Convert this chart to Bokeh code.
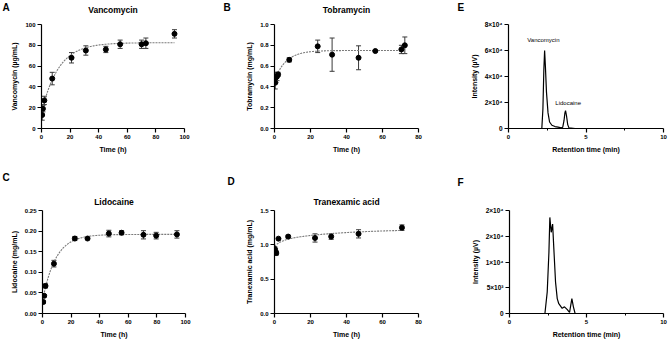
import numpy as np
from bokeh.plotting import figure
from bokeh.layouts import column, row
from bokeh.models import (ColumnDataSource, Whisker, TeeHead, FixedTicker, Label,
                          PrintfTickFormatter, Range1d)
from bokeh.embed import file_html
from bokeh.resources import INLINE

FONT = "Liberation Sans"

# ---- Release data (mean +/- SD) ----
vanc_t = [0.5, 1, 2, 7.5, 21, 31, 45, 55, 70, 73, 93]
vanc_mean = [13, 19, 27, 48, 68, 75, 76, 81, 81, 82, 91]
vanc_sd = [5, 3, 4, 6, 5, 4.5, 3, 4, 4, 5, 4]

tobra_t = [0.4, 0.8, 1.4, 2, 8.2, 24, 32, 46.7, 56, 70.5, 72.4]
tobra_mean = [0.44, 0.49, 0.50, 0.52, 0.66, 0.79, 0.71, 0.68, 0.745, 0.76, 0.80]
tobra_sd = [0.06, 0.05, 0.04, 0.02, 0.02, 0.06, 0.16, 0.115, 0.0, 0.04, 0.08]

lido_t = [0.5, 1.2, 2.1, 8, 22.6, 31.5, 46.4, 55.3, 70.6, 79.5, 94]
lido_mean = [0.028, 0.043, 0.067, 0.121, 0.182, 0.182, 0.194, 0.196, 0.191, 0.189, 0.192]
lido_sd = [0.004, 0.003, 0.005, 0.008, 0.005, 0.002, 0.008, 0.005, 0.010, 0.008, 0.009]

txa_t = [0.2, 0.6, 1.0, 2.2, 7.6, 22.5, 31.5, 46.7, 70.8]
txa_mean = [0.94, 0.90, 0.88, 1.09, 1.12, 1.10, 1.12, 1.16, 1.25]
txa_sd = [0.03, 0.04, 0.03, 0.0, 0.02, 0.06, 0.04, 0.06, 0.04]

# ---- Fitted association curves (parameters) ----
vanc_fit = dict(y0=15.0, plateau=82.5, k=0.085, t_end=93)
tobra_fit = dict(y0=0.46, plateau=0.75, k=0.16, t_end=72.5)
lido_fit = dict(y0=0.030, plateau=0.192, k=0.11, t_end=94)
txa_fit = dict(y0=0.98, fast=0.08, k_fast=0.25, slow=0.17, k_slow=0.03, t_end=71)

# ---- Chromatograms ----
chrom_e_t = [0, 2.15, 2.22, 2.28, 2.33, 2.38, 2.45, 2.55, 2.65, 2.8, 3.0, 3.2, 3.4,
             3.5, 3.58, 3.64, 3.68, 3.74, 3.82, 3.9, 4.3]
chrom_e_i = [0, 0, 15000, 45000, 60000, 48000, 28000, 12000, 5000, 2500, 1500, 1000, 500,
             1000, 6000, 12000, 13700, 10000, 3000, 500, 0]

chrom_f_t = [0, 2.3, 2.45, 2.56, 2.62, 2.71, 2.8, 2.88, 2.99, 3.1, 3.2, 3.42, 3.57,
             3.74, 3.9, 4.05, 4.15, 4.26, 4.37]
chrom_f_i = [0, 0, 4200, 11900, 18660, 15770, 17370, 12550, 6100, 2900, 1900, 1000, 1300,
             800, 200, 2900, 1300, 0, 0]

e_ticks = [0, 20000, 40000, 60000, 80000]
e_tick_labels = ["0", "2×10⁴", "4×10⁴", "6×10⁴", "8×10⁴"]
f_ticks = [0, 5000, 10000, 15000, 20000]
f_tick_labels = ["0", "5×10³", "1×10⁴", "2×10⁴", "2×10⁴"]

ROW_H = 171


def style_axes(p, xlabel, ylabel):
    p.outline_line_color = None
    p.xgrid.visible = False
    p.ygrid.visible = False
    p.background_fill_color = "white"
    p.border_fill_color = "white"
    for ax in (p.xaxis[0], p.yaxis[0]):
        ax.axis_line_width = 1.2
        ax.axis_line_color = "black"
        ax.major_tick_line_color = "black"
        ax.major_tick_line_width = 1.2
        ax.major_tick_out = 4
        ax.major_tick_in = 0
        ax.minor_tick_line_color = None
        ax.major_label_text_font = FONT
        ax.major_label_text_font_size = "6px"
        ax.major_label_text_font_style = "bold"
        ax.major_label_text_color = "black"
        ax.major_label_standoff = 2
        ax.axis_label_text_font = FONT
        ax.axis_label_text_font_size = "7px"
        ax.axis_label_text_font_style = "bold"
        ax.axis_label_text_color = "black"
        ax.axis_label_standoff = 4
    p.xaxis[0].axis_label = xlabel
    p.yaxis[0].axis_label = ylabel


def make_panel(w, h, borders, xr, yr):
    l, r, t, b = borders
    return figure(width=w, height=h, output_backend="svg", toolbar_location=None,
                  title=None, x_range=Range1d(*xr), y_range=Range1d(*yr),
                  min_border_left=l, min_border_right=r, min_border_top=t,
                  min_border_bottom=b)


def frame_geometry(w, h, borders):
    l, r, t, b = borders
    return w - l - r, h - t - b


def add_letter_right(p, letter, w, h, borders, cx, cy):
    # placed in the right side panel: offsets are measured from the frame's
    # right edge (x) and bottom edge (y)
    l, r, t, b = borders
    fw, fh = frame_geometry(w, h, borders)
    p.add_layout(Label(x=cx - (l + fw), y=(h - b) - cy, x_units="screen", y_units="screen",
                       text=letter, text_font=FONT, text_font_size="10px",
                       text_font_style="bold", text_color="black",
                       text_baseline="middle", text_align="left"), "right")


def add_letter_above(p, letter, borders, cx, cy):
    # placed in the top side panel: offsets from the frame's left / top edges
    l, r, t, b = borders
    p.add_layout(Label(x=cx - l, y=t - cy, x_units="screen", y_units="screen",
                       text=letter, text_font=FONT, text_font_size="10px",
                       text_font_style="bold", text_color="black",
                       text_baseline="middle", text_align="left"), "above")


def add_heading(p, text, w, h, borders, cy):
    l, r, t, b = borders
    fw, fh = frame_geometry(w, h, borders)
    p.add_layout(Label(x=fw / 2, y=t - cy, x_units="screen", y_units="screen",
                       text=text, text_font=FONT, text_font_size="8.5px",
                       text_font_style="bold", text_color="black",
                       text_baseline="middle", text_align="center"), "above")


def release_panel(ylabel, t, mean, sd, curve_t, curve_y, w, h, borders, xr, yr,
                  xticks, yticks, yfmt):
    p = make_panel(w, h, borders, xr, yr)
    style_axes(p, "Time (h)", ylabel)
    p.xaxis[0].ticker = FixedTicker(ticks=xticks)
    p.yaxis[0].ticker = FixedTicker(ticks=yticks)
    p.yaxis[0].formatter = PrintfTickFormatter(format=yfmt)
    p.line(curve_t, curve_y, line_color="#7a7a7a", line_width=1.1, line_dash="2 1")
    lower = [m - s for m, s in zip(mean, sd)]
    upper = [m + s for m, s in zip(mean, sd)]
    src = ColumnDataSource(dict(t=t, mean=mean, lower=lower, upper=upper))
    wh = Whisker(base="t", lower="lower", upper="upper", source=src,
                 line_color="#3a3a3a", line_width=1,
                 upper_head=TeeHead(size=5, line_color="#3a3a3a", line_width=1),
                 lower_head=TeeHead(size=5, line_color="#3a3a3a", line_width=1))
    p.add_layout(wh)
    p.scatter("t", "mean", source=src, size=5, color="black")
    return p


def one_phase(fit):
    tt = np.linspace(0, fit["t_end"], 200)
    return tt, fit["y0"] + (fit["plateau"] - fit["y0"]) * (1 - np.exp(-fit["k"] * tt))


def two_phase(fit):
    tt = np.linspace(0, fit["t_end"], 200)
    yy = (fit["y0"] + fit["fast"] * (1 - np.exp(-fit["k_fast"] * tt))
          + fit["slow"] * (1 - np.exp(-fit["k_slow"] * tt)))
    return tt, yy


def chrom_panel(t, inten, ticks, tick_labels, ymax, w, h, borders):
    p = make_panel(w, h, borders, (0, 10), (0, ymax))
    style_axes(p, "Retention time (min)", "Intensity (µV)")
    p.xaxis[0].ticker = FixedTicker(ticks=[0, 5, 10], minor_ticks=[2.5, 7.5])
    p.xaxis[0].minor_tick_line_color = "black"
    p.xaxis[0].minor_tick_line_width = 1
    p.xaxis[0].minor_tick_out = 2
    p.xaxis[0].minor_tick_in = 0
    p.yaxis[0].ticker = FixedTicker(ticks=ticks)
    p.yaxis[0].major_label_overrides = dict(zip(ticks, tick_labels))
    p.yaxis[0].major_label_text_font_size = "6.5px"
    p.line(t, inten, line_color="black", line_width=1.2)
    return p


# ---- A: vancomycin ----
bA = (41, 36, 24, 43)
ct, cy = one_phase(vanc_fit)
pA = release_panel("Vancomycin (µg/mL)", vanc_t, vanc_mean, vanc_sd, ct, cy,
                   220, ROW_H, bA, (0, 100), (0, 100),
                   [0, 20, 40, 60, 80, 100], [0, 20, 40, 60, 80, 100], "%d")
add_heading(pA, "Vancomycin", 220, ROW_H, bA, 9)
add_letter_right(pA, "A", 220, ROW_H, bA, 2, 7)

# ---- B: tobramycin ----
bB = (54, 22, 24, 43)
ct, cy = one_phase(tobra_fit)
pB = release_panel("Tobramycin (mg/mL)", tobra_t, tobra_mean, tobra_sd, ct, cy,
                   220, ROW_H, bB, (0, 80), (0, 1.0),
                   [0, 20, 40, 60, 80], [0, 0.2, 0.4, 0.6, 0.8, 1.0], "%.1f")
add_heading(pB, "Tobramycin", 220, ROW_H, bB, 9)
add_letter_right(pB, "B", 220, ROW_H, bB, 3, 7)

# ---- E: chromatogram of the vancomycin/lidocaine eluate ----
bE = (68, 6, 24, 43)
pE = chrom_panel(chrom_e_t, chrom_e_i, e_ticks, e_tick_labels, 80000, 229, ROW_H, bE)
add_letter_above(pE, "E", bE, 17, 7)
for txt, x, y in (("Vancomycin", 2.25, 68000), ("Lidocaine", 3.85, 20000)):
    pE.add_layout(Label(x=x, y=y, text=txt, text_font=FONT, text_font_size="6px",
                        text_align="center", text_baseline="middle", text_color="black"))

# ---- C: lidocaine ----
bC = (42, 35, 37, 28)
ct, cy = one_phase(lido_fit)
pC = release_panel("Lidocaine (mg/mL)", lido_t, lido_mean, lido_sd, ct, cy,
                   220, ROW_H, bC, (0, 100), (0, 0.25),
                   [0, 20, 40, 60, 80, 100], [0, 0.05, 0.10, 0.15, 0.20, 0.25], "%.2f")
add_heading(pC, "Lidocaine", 220, ROW_H, bC, 28)
add_letter_right(pC, "C", 220, ROW_H, bC, 2, 7)

# ---- D: tranexamic acid ----
bD = (54, 22, 37, 28)
ct, cy = two_phase(txa_fit)
pD = release_panel("Tranexamic acid (mg/mL)", txa_t, txa_mean, txa_sd, ct, cy,
                   220, ROW_H, bD, (0, 80), (0, 1.5),
                   [0, 20, 40, 60, 80], [0, 0.5, 1.0, 1.5], "%.1f")
add_heading(pD, "Tranexamic acid", 220, ROW_H, bD, 28)
add_letter_right(pD, "D", 220, ROW_H, bD, 7, 11)

# ---- F: chromatogram of the tranexamic acid eluate ----
bF = (69, 6, 39, 29)
pF = chrom_panel(chrom_f_t, chrom_f_i, f_ticks, f_tick_labels, 20000, 229, ROW_H, bF)
add_letter_above(pF, "F", bF, 17, 11)

layout = column(row(pA, pB, pE, spacing=0), row(pC, pD, pF, spacing=0), spacing=0)

with open("out.html", "w") as f:
    f.write(file_html(layout, INLINE))
